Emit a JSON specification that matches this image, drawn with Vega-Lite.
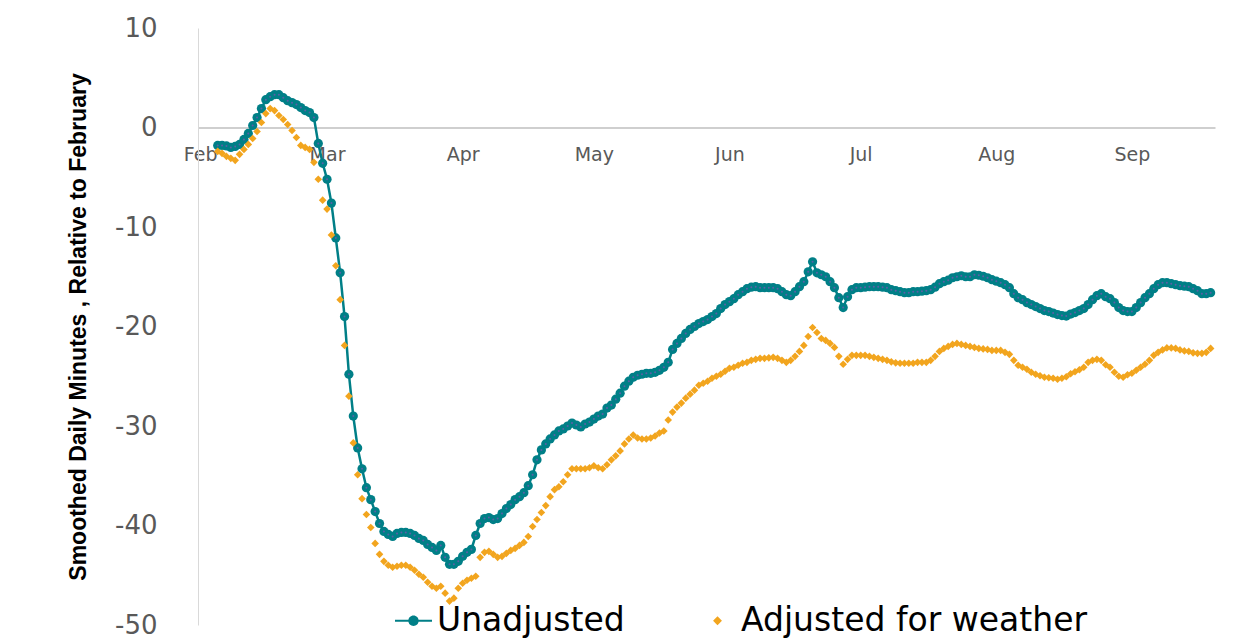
{
"$schema":"https://vega.github.io/schema/vega-lite/v6.json",
"width":1017,"height":597,
"autosize":{"type":"none"},
"padding":{"left":198,"top":28,"right":36,"bottom":13},
"background":"white",
"config":{"view":{"stroke":null}},
"data":{"values":[
{"date":"2020-02-05","Unadjusted":-1.8,"Adjusted for weather":-2.4},
{"date":"2020-02-06","Unadjusted":-1.8,"Adjusted for weather":-2.6},
{"date":"2020-02-07","Unadjusted":-1.85,"Adjusted for weather":-2.9},
{"date":"2020-02-08","Unadjusted":-2.0,"Adjusted for weather":-3.1},
{"date":"2020-02-09","Unadjusted":-1.9,"Adjusted for weather":-3.3},
{"date":"2020-02-10","Unadjusted":-1.7,"Adjusted for weather":-2.7},
{"date":"2020-02-11","Unadjusted":-1.2,"Adjusted for weather":-2.2},
{"date":"2020-02-12","Unadjusted":-0.6,"Adjusted for weather":-1.7},
{"date":"2020-02-13","Unadjusted":0.2,"Adjusted for weather":-1.1},
{"date":"2020-02-14","Unadjusted":1.0,"Adjusted for weather":-0.4},
{"date":"2020-02-15","Unadjusted":1.9,"Adjusted for weather":0.5},
{"date":"2020-02-16","Unadjusted":2.8,"Adjusted for weather":1.4},
{"date":"2020-02-17","Unadjusted":3.1,"Adjusted for weather":1.9},
{"date":"2020-02-18","Unadjusted":3.3,"Adjusted for weather":1.7},
{"date":"2020-02-19","Unadjusted":3.3,"Adjusted for weather":1.2},
{"date":"2020-02-20","Unadjusted":3.0,"Adjusted for weather":0.8},
{"date":"2020-02-21","Unadjusted":2.7,"Adjusted for weather":0.3},
{"date":"2020-02-22","Unadjusted":2.5,"Adjusted for weather":-0.3},
{"date":"2020-02-23","Unadjusted":2.3,"Adjusted for weather":-1.0},
{"date":"2020-02-24","Unadjusted":2.0,"Adjusted for weather":-1.8},
{"date":"2020-02-25","Unadjusted":1.7,"Adjusted for weather":-2.0},
{"date":"2020-02-26","Unadjusted":1.5,"Adjusted for weather":-2.2},
{"date":"2020-02-27","Unadjusted":1.0,"Adjusted for weather":-3.5},
{"date":"2020-02-28","Unadjusted":-1.6,"Adjusted for weather":-5.2},
{"date":"2020-02-29","Unadjusted":-3.6,"Adjusted for weather":-7.3},
{"date":"2020-03-01","Unadjusted":-5.2,"Adjusted for weather":-8.2},
{"date":"2020-03-02","Unadjusted":-7.6,"Adjusted for weather":-10.8},
{"date":"2020-03-03","Unadjusted":-11.1,"Adjusted for weather":-13.9},
{"date":"2020-03-04","Unadjusted":-14.6,"Adjusted for weather":-17.3},
{"date":"2020-03-05","Unadjusted":-19.0,"Adjusted for weather":-21.9},
{"date":"2020-03-06","Unadjusted":-24.8,"Adjusted for weather":-27.0},
{"date":"2020-03-07","Unadjusted":-29.0,"Adjusted for weather":-31.7},
{"date":"2020-03-08","Unadjusted":-32.2,"Adjusted for weather":-34.9},
{"date":"2020-03-09","Unadjusted":-34.3,"Adjusted for weather":-37.3},
{"date":"2020-03-10","Unadjusted":-36.2,"Adjusted for weather":-38.9},
{"date":"2020-03-11","Unadjusted":-37.4,"Adjusted for weather":-40.2},
{"date":"2020-03-12","Unadjusted":-38.6,"Adjusted for weather":-41.8},
{"date":"2020-03-13","Unadjusted":-39.8,"Adjusted for weather":-42.9},
{"date":"2020-03-14","Unadjusted":-40.6,"Adjusted for weather":-43.6},
{"date":"2020-03-15","Unadjusted":-40.9,"Adjusted for weather":-44.0},
{"date":"2020-03-16","Unadjusted":-41.1,"Adjusted for weather":-44.2},
{"date":"2020-03-17","Unadjusted":-40.8,"Adjusted for weather":-44.1},
{"date":"2020-03-18","Unadjusted":-40.7,"Adjusted for weather":-44.0},
{"date":"2020-03-19","Unadjusted":-40.7,"Adjusted for weather":-44.0},
{"date":"2020-03-20","Unadjusted":-40.8,"Adjusted for weather":-44.2},
{"date":"2020-03-21","Unadjusted":-41.0,"Adjusted for weather":-44.5},
{"date":"2020-03-22","Unadjusted":-41.3,"Adjusted for weather":-44.9},
{"date":"2020-03-23","Unadjusted":-41.5,"Adjusted for weather":-45.2},
{"date":"2020-03-24","Unadjusted":-41.9,"Adjusted for weather":-45.7},
{"date":"2020-03-25","Unadjusted":-42.2,"Adjusted for weather":-46.1},
{"date":"2020-03-26","Unadjusted":-42.5,"Adjusted for weather":-46.3},
{"date":"2020-03-27","Unadjusted":-42.0,"Adjusted for weather":-46.1},
{"date":"2020-03-28","Unadjusted":-43.2,"Adjusted for weather":-46.8},
{"date":"2020-03-29","Unadjusted":-43.9,"Adjusted for weather":-47.6},
{"date":"2020-03-30","Unadjusted":-43.9,"Adjusted for weather":-47.3},
{"date":"2020-03-31","Unadjusted":-43.6,"Adjusted for weather":-46.3},
{"date":"2020-04-01","Unadjusted":-43.1,"Adjusted for weather":-45.8},
{"date":"2020-04-02","Unadjusted":-42.7,"Adjusted for weather":-45.5},
{"date":"2020-04-03","Unadjusted":-42.4,"Adjusted for weather":-45.3},
{"date":"2020-04-04","Unadjusted":-41.0,"Adjusted for weather":-45.1},
{"date":"2020-04-05","Unadjusted":-39.8,"Adjusted for weather":-43.2},
{"date":"2020-04-06","Unadjusted":-39.3,"Adjusted for weather":-42.7},
{"date":"2020-04-07","Unadjusted":-39.2,"Adjusted for weather":-42.6},
{"date":"2020-04-08","Unadjusted":-39.4,"Adjusted for weather":-42.9},
{"date":"2020-04-09","Unadjusted":-39.3,"Adjusted for weather":-43.2},
{"date":"2020-04-10","Unadjusted":-38.8,"Adjusted for weather":-43.1},
{"date":"2020-04-11","Unadjusted":-38.3,"Adjusted for weather":-42.8},
{"date":"2020-04-12","Unadjusted":-37.9,"Adjusted for weather":-42.5},
{"date":"2020-04-13","Unadjusted":-37.4,"Adjusted for weather":-42.3},
{"date":"2020-04-14","Unadjusted":-37.1,"Adjusted for weather":-42.0},
{"date":"2020-04-15","Unadjusted":-36.7,"Adjusted for weather":-41.7},
{"date":"2020-04-16","Unadjusted":-36.0,"Adjusted for weather":-41.1},
{"date":"2020-04-17","Unadjusted":-34.9,"Adjusted for weather":-40.1},
{"date":"2020-04-18","Unadjusted":-33.4,"Adjusted for weather":-39.4},
{"date":"2020-04-19","Unadjusted":-32.4,"Adjusted for weather":-38.7},
{"date":"2020-04-20","Unadjusted":-31.8,"Adjusted for weather":-38.0},
{"date":"2020-04-21","Unadjusted":-31.3,"Adjusted for weather":-37.1},
{"date":"2020-04-22","Unadjusted":-30.9,"Adjusted for weather":-36.4},
{"date":"2020-04-23","Unadjusted":-30.5,"Adjusted for weather":-36.1},
{"date":"2020-04-24","Unadjusted":-30.3,"Adjusted for weather":-35.6},
{"date":"2020-04-25","Unadjusted":-30.0,"Adjusted for weather":-34.9},
{"date":"2020-04-26","Unadjusted":-29.7,"Adjusted for weather":-34.3},
{"date":"2020-04-27","Unadjusted":-29.9,"Adjusted for weather":-34.3},
{"date":"2020-04-28","Unadjusted":-30.1,"Adjusted for weather":-34.3},
{"date":"2020-04-29","Unadjusted":-29.8,"Adjusted for weather":-34.3},
{"date":"2020-04-30","Unadjusted":-29.6,"Adjusted for weather":-34.2},
{"date":"2020-05-01","Unadjusted":-29.3,"Adjusted for weather":-34.0},
{"date":"2020-05-02","Unadjusted":-29.0,"Adjusted for weather":-34.2},
{"date":"2020-05-03","Unadjusted":-28.8,"Adjusted for weather":-34.3},
{"date":"2020-05-04","Unadjusted":-28.2,"Adjusted for weather":-33.9},
{"date":"2020-05-05","Unadjusted":-27.9,"Adjusted for weather":-33.4},
{"date":"2020-05-06","Unadjusted":-27.3,"Adjusted for weather":-33.0},
{"date":"2020-05-07","Unadjusted":-26.7,"Adjusted for weather":-32.5},
{"date":"2020-05-08","Unadjusted":-26.0,"Adjusted for weather":-31.8},
{"date":"2020-05-09","Unadjusted":-25.5,"Adjusted for weather":-31.3},
{"date":"2020-05-10","Unadjusted":-25.1,"Adjusted for weather":-30.9},
{"date":"2020-05-11","Unadjusted":-24.9,"Adjusted for weather":-31.2},
{"date":"2020-05-12","Unadjusted":-24.8,"Adjusted for weather":-31.3},
{"date":"2020-05-13","Unadjusted":-24.7,"Adjusted for weather":-31.3},
{"date":"2020-05-14","Unadjusted":-24.7,"Adjusted for weather":-31.2},
{"date":"2020-05-15","Unadjusted":-24.6,"Adjusted for weather":-31.0},
{"date":"2020-05-16","Unadjusted":-24.4,"Adjusted for weather":-30.7},
{"date":"2020-05-17","Unadjusted":-24.1,"Adjusted for weather":-30.5},
{"date":"2020-05-18","Unadjusted":-23.6,"Adjusted for weather":-29.4},
{"date":"2020-05-19","Unadjusted":-22.3,"Adjusted for weather":-28.6},
{"date":"2020-05-20","Unadjusted":-21.7,"Adjusted for weather":-28.1},
{"date":"2020-05-21","Unadjusted":-21.2,"Adjusted for weather":-27.7},
{"date":"2020-05-22","Unadjusted":-20.7,"Adjusted for weather":-27.2},
{"date":"2020-05-23","Unadjusted":-20.3,"Adjusted for weather":-26.8},
{"date":"2020-05-24","Unadjusted":-20.0,"Adjusted for weather":-26.4},
{"date":"2020-05-25","Unadjusted":-19.7,"Adjusted for weather":-25.9},
{"date":"2020-05-26","Unadjusted":-19.5,"Adjusted for weather":-25.7},
{"date":"2020-05-27","Unadjusted":-19.3,"Adjusted for weather":-25.5},
{"date":"2020-05-28","Unadjusted":-19.0,"Adjusted for weather":-25.2},
{"date":"2020-05-29","Unadjusted":-18.7,"Adjusted for weather":-25.0},
{"date":"2020-05-30","Unadjusted":-18.2,"Adjusted for weather":-24.8},
{"date":"2020-05-31","Unadjusted":-17.8,"Adjusted for weather":-24.5},
{"date":"2020-06-01","Unadjusted":-17.5,"Adjusted for weather":-24.2},
{"date":"2020-06-02","Unadjusted":-17.2,"Adjusted for weather":-24.1},
{"date":"2020-06-03","Unadjusted":-16.8,"Adjusted for weather":-23.9},
{"date":"2020-06-04","Unadjusted":-16.5,"Adjusted for weather":-23.7},
{"date":"2020-06-05","Unadjusted":-16.2,"Adjusted for weather":-23.6},
{"date":"2020-06-06","Unadjusted":-16.05,"Adjusted for weather":-23.4},
{"date":"2020-06-07","Unadjusted":-16.0,"Adjusted for weather":-23.3},
{"date":"2020-06-08","Unadjusted":-16.1,"Adjusted for weather":-23.2},
{"date":"2020-06-09","Unadjusted":-16.1,"Adjusted for weather":-23.2},
{"date":"2020-06-10","Unadjusted":-16.1,"Adjusted for weather":-23.15},
{"date":"2020-06-11","Unadjusted":-16.1,"Adjusted for weather":-23.1},
{"date":"2020-06-12","Unadjusted":-16.2,"Adjusted for weather":-23.2},
{"date":"2020-06-13","Unadjusted":-16.5,"Adjusted for weather":-23.4},
{"date":"2020-06-14","Unadjusted":-16.8,"Adjusted for weather":-23.6},
{"date":"2020-06-15","Unadjusted":-16.9,"Adjusted for weather":-23.4},
{"date":"2020-06-16","Unadjusted":-16.5,"Adjusted for weather":-23.0},
{"date":"2020-06-17","Unadjusted":-16.0,"Adjusted for weather":-22.5},
{"date":"2020-06-18","Unadjusted":-15.5,"Adjusted for weather":-21.9},
{"date":"2020-06-19","Unadjusted":-14.5,"Adjusted for weather":-21.0},
{"date":"2020-06-20","Unadjusted":-13.5,"Adjusted for weather":-20.1},
{"date":"2020-06-21","Unadjusted":-14.6,"Adjusted for weather":-20.6},
{"date":"2020-06-22","Unadjusted":-14.8,"Adjusted for weather":-21.2},
{"date":"2020-06-23","Unadjusted":-15.0,"Adjusted for weather":-21.4},
{"date":"2020-06-24","Unadjusted":-15.5,"Adjusted for weather":-21.7},
{"date":"2020-06-25","Unadjusted":-16.1,"Adjusted for weather":-22.1},
{"date":"2020-06-26","Unadjusted":-17.1,"Adjusted for weather":-23.0},
{"date":"2020-06-27","Unadjusted":-18.1,"Adjusted for weather":-23.8},
{"date":"2020-06-28","Unadjusted":-17.0,"Adjusted for weather":-23.3},
{"date":"2020-06-29","Unadjusted":-16.3,"Adjusted for weather":-22.9},
{"date":"2020-06-30","Unadjusted":-16.1,"Adjusted for weather":-22.9},
{"date":"2020-07-01","Unadjusted":-16.1,"Adjusted for weather":-22.9},
{"date":"2020-07-02","Unadjusted":-16.05,"Adjusted for weather":-22.9},
{"date":"2020-07-03","Unadjusted":-16.0,"Adjusted for weather":-23.0},
{"date":"2020-07-04","Unadjusted":-16.0,"Adjusted for weather":-23.1},
{"date":"2020-07-05","Unadjusted":-16.0,"Adjusted for weather":-23.2},
{"date":"2020-07-06","Unadjusted":-16.05,"Adjusted for weather":-23.3},
{"date":"2020-07-07","Unadjusted":-16.1,"Adjusted for weather":-23.4},
{"date":"2020-07-08","Unadjusted":-16.3,"Adjusted for weather":-23.55},
{"date":"2020-07-09","Unadjusted":-16.4,"Adjusted for weather":-23.65},
{"date":"2020-07-10","Unadjusted":-16.5,"Adjusted for weather":-23.7},
{"date":"2020-07-11","Unadjusted":-16.6,"Adjusted for weather":-23.7},
{"date":"2020-07-12","Unadjusted":-16.6,"Adjusted for weather":-23.7},
{"date":"2020-07-13","Unadjusted":-16.5,"Adjusted for weather":-23.7},
{"date":"2020-07-14","Unadjusted":-16.5,"Adjusted for weather":-23.6},
{"date":"2020-07-15","Unadjusted":-16.45,"Adjusted for weather":-23.6},
{"date":"2020-07-16","Unadjusted":-16.4,"Adjusted for weather":-23.6},
{"date":"2020-07-17","Unadjusted":-16.3,"Adjusted for weather":-23.4},
{"date":"2020-07-18","Unadjusted":-16.05,"Adjusted for weather":-23.0},
{"date":"2020-07-19","Unadjusted":-15.7,"Adjusted for weather":-22.5},
{"date":"2020-07-20","Unadjusted":-15.5,"Adjusted for weather":-22.2},
{"date":"2020-07-21","Unadjusted":-15.35,"Adjusted for weather":-22.0},
{"date":"2020-07-22","Unadjusted":-15.1,"Adjusted for weather":-21.8},
{"date":"2020-07-23","Unadjusted":-15.0,"Adjusted for weather":-21.7},
{"date":"2020-07-24","Unadjusted":-14.9,"Adjusted for weather":-21.8},
{"date":"2020-07-25","Unadjusted":-15.0,"Adjusted for weather":-21.9},
{"date":"2020-07-26","Unadjusted":-15.0,"Adjusted for weather":-22.0},
{"date":"2020-07-27","Unadjusted":-14.8,"Adjusted for weather":-22.1},
{"date":"2020-07-28","Unadjusted":-14.85,"Adjusted for weather":-22.2},
{"date":"2020-07-29","Unadjusted":-14.95,"Adjusted for weather":-22.25},
{"date":"2020-07-30","Unadjusted":-15.1,"Adjusted for weather":-22.3},
{"date":"2020-07-31","Unadjusted":-15.3,"Adjusted for weather":-22.4},
{"date":"2020-08-01","Unadjusted":-15.45,"Adjusted for weather":-22.4},
{"date":"2020-08-02","Unadjusted":-15.6,"Adjusted for weather":-22.4},
{"date":"2020-08-03","Unadjusted":-15.8,"Adjusted for weather":-22.6},
{"date":"2020-08-04","Unadjusted":-16.1,"Adjusted for weather":-22.8},
{"date":"2020-08-05","Unadjusted":-16.7,"Adjusted for weather":-23.4},
{"date":"2020-08-06","Unadjusted":-17.1,"Adjusted for weather":-23.9},
{"date":"2020-08-07","Unadjusted":-17.3,"Adjusted for weather":-24.1},
{"date":"2020-08-08","Unadjusted":-17.6,"Adjusted for weather":-24.3},
{"date":"2020-08-09","Unadjusted":-17.8,"Adjusted for weather":-24.6},
{"date":"2020-08-10","Unadjusted":-18.0,"Adjusted for weather":-24.8},
{"date":"2020-08-11","Unadjusted":-18.2,"Adjusted for weather":-24.95},
{"date":"2020-08-12","Unadjusted":-18.4,"Adjusted for weather":-25.1},
{"date":"2020-08-13","Unadjusted":-18.5,"Adjusted for weather":-25.15},
{"date":"2020-08-14","Unadjusted":-18.65,"Adjusted for weather":-25.2},
{"date":"2020-08-15","Unadjusted":-18.8,"Adjusted for weather":-25.3},
{"date":"2020-08-16","Unadjusted":-18.9,"Adjusted for weather":-25.2},
{"date":"2020-08-17","Unadjusted":-18.95,"Adjusted for weather":-25.05},
{"date":"2020-08-18","Unadjusted":-18.75,"Adjusted for weather":-24.75},
{"date":"2020-08-19","Unadjusted":-18.6,"Adjusted for weather":-24.55},
{"date":"2020-08-20","Unadjusted":-18.4,"Adjusted for weather":-24.35},
{"date":"2020-08-21","Unadjusted":-18.2,"Adjusted for weather":-24.1},
{"date":"2020-08-22","Unadjusted":-17.8,"Adjusted for weather":-23.6},
{"date":"2020-08-23","Unadjusted":-17.3,"Adjusted for weather":-23.4},
{"date":"2020-08-24","Unadjusted":-16.9,"Adjusted for weather":-23.3},
{"date":"2020-08-25","Unadjusted":-16.7,"Adjusted for weather":-23.4},
{"date":"2020-08-26","Unadjusted":-17.0,"Adjusted for weather":-23.85},
{"date":"2020-08-27","Unadjusted":-17.2,"Adjusted for weather":-24.1},
{"date":"2020-08-28","Unadjusted":-17.6,"Adjusted for weather":-24.6},
{"date":"2020-08-29","Unadjusted":-18.1,"Adjusted for weather":-25.0},
{"date":"2020-08-30","Unadjusted":-18.4,"Adjusted for weather":-25.1},
{"date":"2020-08-31","Unadjusted":-18.5,"Adjusted for weather":-24.85},
{"date":"2020-09-01","Unadjusted":-18.5,"Adjusted for weather":-24.7},
{"date":"2020-09-02","Unadjusted":-18.1,"Adjusted for weather":-24.4},
{"date":"2020-09-03","Unadjusted":-17.6,"Adjusted for weather":-24.1},
{"date":"2020-09-04","Unadjusted":-17.1,"Adjusted for weather":-23.8},
{"date":"2020-09-05","Unadjusted":-16.7,"Adjusted for weather":-23.4},
{"date":"2020-09-06","Unadjusted":-16.2,"Adjusted for weather":-22.9},
{"date":"2020-09-07","Unadjusted":-15.8,"Adjusted for weather":-22.6},
{"date":"2020-09-08","Unadjusted":-15.6,"Adjusted for weather":-22.35},
{"date":"2020-09-09","Unadjusted":-15.6,"Adjusted for weather":-22.15},
{"date":"2020-09-10","Unadjusted":-15.7,"Adjusted for weather":-22.15},
{"date":"2020-09-11","Unadjusted":-15.8,"Adjusted for weather":-22.2},
{"date":"2020-09-12","Unadjusted":-15.9,"Adjusted for weather":-22.35},
{"date":"2020-09-13","Unadjusted":-15.95,"Adjusted for weather":-22.45},
{"date":"2020-09-14","Unadjusted":-16.0,"Adjusted for weather":-22.5},
{"date":"2020-09-15","Unadjusted":-16.2,"Adjusted for weather":-22.65},
{"date":"2020-09-16","Unadjusted":-16.4,"Adjusted for weather":-22.7},
{"date":"2020-09-17","Unadjusted":-16.7,"Adjusted for weather":-22.7},
{"date":"2020-09-18","Unadjusted":-16.7,"Adjusted for weather":-22.6},
{"date":"2020-09-19","Unadjusted":-16.6,"Adjusted for weather":-22.2}
]},
"transform":[{"fold":["Unadjusted","Adjusted for weather"],"as":["series","value"]}],
"encoding":{
 "x":{"field":"date","type":"temporal",
  "scale":{"type":"utc","domain":[{"year":2020,"month":1,"date":31,"hours":12,"utc":true},{"year":2020,"month":9,"date":20,"utc":true}]},
  "axis":{"title":null,"orient":"bottom","offset":-497.5,
   "values":[{"year":2020,"month":2,"date":1,"utc":true},{"year":2020,"month":3,"date":1,"utc":true},{"year":2020,"month":4,"date":1,"utc":true},{"year":2020,"month":5,"date":1,"utc":true},{"year":2020,"month":6,"date":1,"utc":true},{"year":2020,"month":7,"date":1,"utc":true},{"year":2020,"month":8,"date":1,"utc":true},{"year":2020,"month":9,"date":1,"utc":true}],
   "format":"%b","ticks":false,"grid":false,"domainColor":"#bfbfbf","domainWidth":1.5,
   "labelFont":"DejaVu Sans","labelFontSize":19,"labelColor":"#595959","labelPadding":18,"labelFlush":false,"labelOverlap":false,"labelBaseline":"top"}},
 "y":{"field":"value","type":"quantitative",
  "scale":{"domain":[-50,10],"nice":false,"zero":false},
  "axis":{"title":"Smoothed Daily Minutes , Relative to February","values":[-50,-40,-30,-20,-10,0,10],
   "labelExpr":"'' + datum.value",
   "ticks":false,"grid":false,"domainColor":"#d9d9d9","domainWidth":1,
   "labelFont":"DejaVu Sans","labelFontSize":26,"labelColor":"#595959","labelPadding":41,
   "titleFont":"Liberation Sans Narrow, Liberation Sans","titleFontWeight":"bold","titleFontSize":23,"titleColor":"#000000",
   "titleX":-113,"titleBaseline":"alphabetic","titleAngle":-90}}
},
"layer":[
 {"transform":[{"filter":"datum.series === 'Unadjusted'"}],
  "mark":{"type":"line","color":"#007F87","strokeWidth":2.5}},
 {"transform":[{"filter":"datum.series === 'Unadjusted'"}],
  "mark":{"type":"point","shape":"circle","filled":true,"size":85,"color":"#007F87","opacity":1}},
 {"transform":[{"filter":"datum.series === 'Unadjusted'"}],
  "mark":{"type":"point","shape":"circle","filled":true,"size":4,"color":"#5B5EA6","opacity":1}},
 {"transform":[{"filter":"datum.series === 'Adjusted for weather'"}],
  "mark":{"type":"point","shape":"diamond","filled":true,"size":58,"color":"#F2A51E","opacity":1}},
 {"transform":[{"filter":"false"}],
  "mark":{"type":"point","filled":true,"opacity":1},
  "encoding":{
   "color":{"field":"series","type":"nominal","scale":{"domain":["Unadjusted","Adjusted for weather"],"range":["#007F87","#F2A51E"]},
    "legend":{"title":null,"orient":"none","legendX":197,"legendY":574,"direction":"horizontal","symbolSize":1369,"symbolStrokeWidth":0,"labelFont":"DejaVu Sans","labelFontSize":33,"labelColor":"#000000","labelOffset":5,"columnPadding":74,"padding":0,"labelLimit":0}},
   "shape":{"field":"series","type":"nominal","scale":{"domain":["Unadjusted","Adjusted for weather"],"range":["M-1,-0.06H-0.26V0.06H-1Z M0.26,-0.06H1V0.06H0.26Z M0.28,0A0.28,0.28 0 1,1 -0.28,0A0.28,0.28 0 1,1 0.28,0Z","M0,-0.24L0.24,0L0,0.24L-0.24,0Z"]},
    "legend":{"title":null,"orient":"none","legendX":197,"legendY":574,"direction":"horizontal","symbolSize":1369,"symbolStrokeWidth":0,"labelFont":"DejaVu Sans","labelFontSize":33,"labelColor":"#000000","labelOffset":5,"columnPadding":74,"padding":0,"labelLimit":0}}
  }}
]
}
